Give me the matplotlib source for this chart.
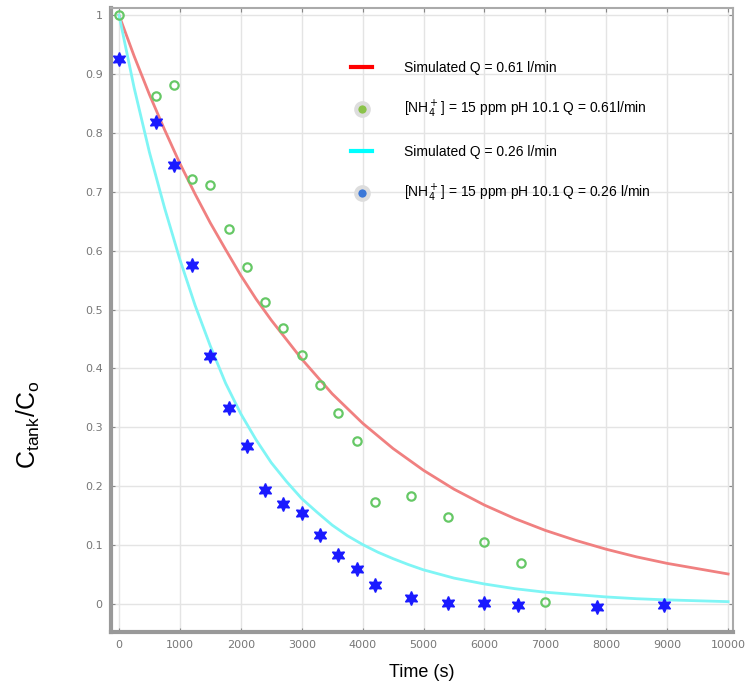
import matplotlib
matplotlib.use("Agg")
import matplotlib.pyplot as plt
from matplotlib.lines import Line2D

# simulated curves
sim_t_061 = [0, 250, 500, 750, 1000, 1250, 1500, 1750, 2000, 2250, 2500, 2750, 3000,
             3500, 4000, 4500, 5000, 5500, 6000, 6500, 7000, 7500, 8000, 8500, 9000,
             9500, 10000]
sim_c_061 = [1.000, 0.930, 0.865, 0.805, 0.748, 0.696, 0.647, 0.602, 0.558, 0.518, 0.482,
             0.449, 0.416, 0.357, 0.307, 0.264, 0.227, 0.195, 0.168, 0.145, 0.125, 0.108,
             0.093, 0.080, 0.069, 0.060, 0.051]

sim_t_026 = [0, 250, 500, 750, 1000, 1250, 1500, 1750, 2000, 2250, 2500, 2750, 3000,
             3250, 3500, 3750, 4000, 4250, 4500, 4750, 5000, 5500, 6000, 6500, 7000,
             7500, 8000, 8500, 9000, 9500, 10000]
sim_c_026 = [1.000, 0.876, 0.767, 0.672, 0.585, 0.507, 0.438, 0.375, 0.323, 0.279, 0.240,
             0.208, 0.179, 0.156, 0.134, 0.116, 0.101, 0.088, 0.077, 0.067, 0.058, 0.044,
             0.034, 0.026, 0.020, 0.016, 0.012, 0.009, 0.007, 0.0055, 0.004]

# measured points
exp_t_061 = [0, 600, 900, 1200, 1500, 1800, 2100, 2400, 2700, 3000, 3300, 3600, 3900,
             4200, 4800, 5400, 6000, 6600, 7000]
exp_c_061 = [1.000, 0.862, 0.882, 0.722, 0.712, 0.637, 0.573, 0.512, 0.468, 0.422, 0.372,
             0.325, 0.276, 0.173, 0.184, 0.148, 0.105, 0.069, 0.004]

exp_t_026 = [0, 600, 900, 1200, 1500, 1800, 2100, 2400, 2700, 3000, 3300, 3600, 3900,
             4200, 4800, 5400, 6000, 6550, 7850, 8950]
exp_c_026 = [0.926, 0.818, 0.746, 0.575, 0.421, 0.333, 0.268, 0.194, 0.170, 0.154, 0.118,
             0.083, 0.059, 0.033, 0.011, 0.002, 0.001, -0.002, -0.005, -0.001]

xticks = list(range(0, 10001, 1000))
yticks = [0, 0.1, 0.2, 0.3, 0.4, 0.5, 0.6, 0.7, 0.8, 0.9, 1]
ylabels = ["0", "0.1", "0.2", "0.3", "0.4", "0.5", "0.6", "0.7", "0.8", "0.9", "1"]

fig = plt.figure(figsize=(7.45, 6.91), dpi=100)
ax = fig.add_axes([0.149, 0.0854, 0.835, 0.903])

ax.plot(sim_t_061, sim_c_061, color="#f08080", lw=2, zorder=3)
ax.plot(sim_t_026, sim_c_026, color="#7ff5f5", lw=2, zorder=3)
ax.plot(exp_t_061, exp_c_061, ls="none", marker="o", ms=6, mfc="none",
        mec="#66c866", mew=1.6, zorder=4)
ax.plot(exp_t_026, exp_c_026, ls="none", marker=(6, 1, 0), ms=10, color="#1a1aff", zorder=4)

ax.set_xlim(-131, 10082)
ax.set_ylim(-0.0475, 1.012)
ax.set_xticks(xticks)
ax.set_yticks(yticks)
ax.set_yticklabels(ylabels)
ax.grid(True, color="#e4e4e4", lw=1)
ax.set_axisbelow(True)
ax.tick_params(direction="in", length=3, colors="#888888", labelsize=8, pad=6,
               top=True, right=True, labelcolor="#777777")
for side in ["top", "right"]:
    ax.spines[side].set_color("#aaaaaa")
    ax.spines[side].set_linewidth(1.5)
for side in ["left", "bottom"]:
    ax.spines[side].set_color("#999999")
    ax.spines[side].set_linewidth(3)

ax.set_xlabel("Time (s)", fontsize=13, labelpad=10, family="Liberation Sans")
fig.text(0.038, 0.385, r"C$_{\mathregular{tank}}$/C$_{\mathregular{o}}$", rotation=90,
         fontsize=18, ha="center", va="center", family="Liberation Sans")

handles = [
    Line2D([], [], color="red", lw=3),
    Line2D([], [], ls="none", marker="o", ms=9, mfc="#8bc34a", mec="#dddddd", mew=3),
    Line2D([], [], color="cyan", lw=3),
    Line2D([], [], ls="none", marker="o", ms=9, mfc="#3b78d8", mec="#dddddd", mew=3),
]
labels = [
    "Simulated Q = 0.61 l/min",
    r"[NH$_4^+$] = 15 ppm pH 10.1 Q = 0.61l/min",
    "Simulated Q = 0.26 l/min",
    r"[NH$_4^+$] = 15 ppm pH 10.1 Q = 0.26 l/min",
]
fig.legend(handles, labels, loc="upper left", bbox_to_anchor=(0.455, 0.93),
           frameon=False, prop={"family": "Liberation Sans", "size": 10},
           handlelength=1.5, labelspacing=1.75, handletextpad=2.3)

fig.savefig("out.png", dpi=100)
